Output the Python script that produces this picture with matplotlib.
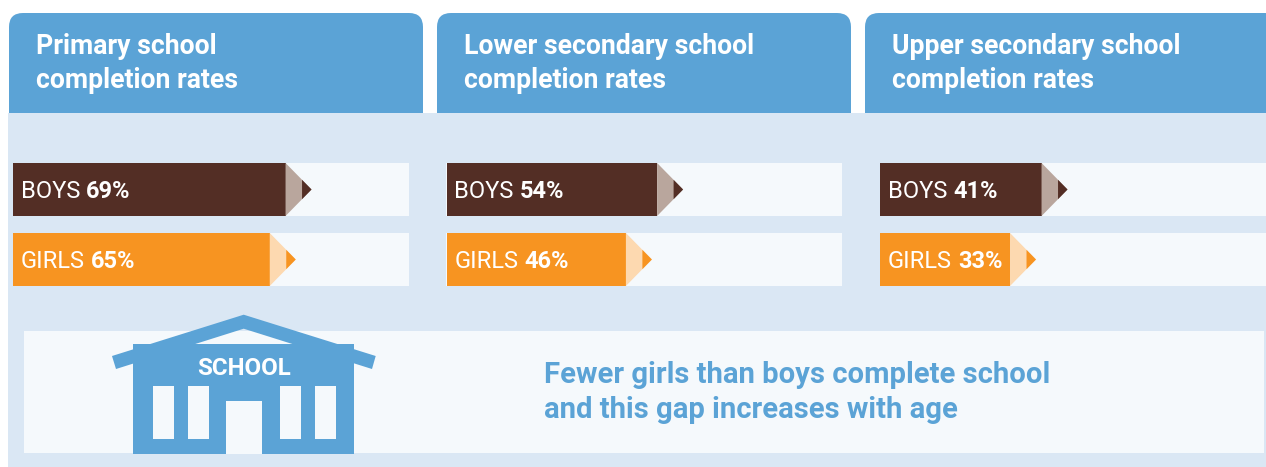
# coding: utf-8
import matplotlib
matplotlib.use('Agg')
import matplotlib.pyplot as plt
from matplotlib.patches import FancyBboxPatch, Polygon, Rectangle

plt.rcParams['font.family'] = ['Roboto', 'DejaVu Sans']

# data
levels = ['Primary school\ncompletion rates',
          'Lower secondary school\ncompletion rates',
          'Upper secondary school\ncompletion rates']
groups = ['BOYS', 'GIRLS']
boys = [69, 54, 41]
girls = [65, 46, 33]
message = ['Fewer girls than boys complete school', 'and this gap increases with age']

# colours
BLUE = '#5BA3D6'
PALE = '#DAE7F4'
TRACK = '#F5F9FC'
BROWN = '#532E25'
BROWN_L = '#B9A69D'
ORANGE = '#F79421'
ORANGE_L = '#FDD9B0'

W, H = 1266, 467
fig = plt.figure(figsize=(W / 100, H / 100), dpi=100)
bg = fig.add_axes([0, 0, 1, 1])
bg.set_xlim(0, W)
bg.set_ylim(H, 0)
bg.axis('off')

# panel positions in pixels: header left, track left, bar left, pixels per percent
header_x = [9, 437, 865]
track_x = [13, 446, 880]
bar_x = [13, 446.5, 880]
px_per_pct = [3.95, 3.9, 3.94]
ROW_H = 53
ROW_STEP = 70
TOP = 163

# headers, the lower part is hidden by the pale band
for x, name in zip(header_x, levels):
    r = 14
    bg.add_patch(FancyBboxPatch((x + r, 13 + r), 414 - 2 * r, 130, boxstyle='round,pad=%d,rounding_size=%d' % (r, r),
                                fc=BLUE, ec='none', zorder=1))
    for i, line in enumerate(name.split('\n')):
        bg.text(x + 26.6, 53.5 + i * 34, line, color='white', fontsize=19.15, fontweight='bold', va='baseline', zorder=4)

bg.add_patch(Rectangle((8, 113), W - 8, H - 113, fc=PALE, ec='none', zorder=2))
for x in track_x:
    for i in range(2):
        bg.add_patch(Rectangle((x, TOP + i * ROW_STEP), 396, ROW_H, fc=TRACK, ec='none', zorder=3))

# bars, one axes per panel with 0-100 on x
for k in range(3):
    s = px_per_pct[k]
    ax = fig.add_axes([bar_x[k] / W, 1 - (TOP + ROW_STEP + ROW_H) / H, 100 * s / W, (ROW_STEP + ROW_H) / H], zorder=5)
    ax.patch.set_alpha(0)
    ax.axis('off')
    half = ROW_H / ROW_STEP / 2
    ax.set_xlim(0, 100)
    ax.set_ylim(1 + half, -half)
    vals = [boys[k], girls[k]]
    cols = [BROWN, ORANGE]
    lights = [BROWN_L, ORANGE_L]
    ax.barh([0, 1], vals, height=2 * half, color=cols, linewidth=0)
    for i in range(2):
        v = vals[i]
        tip = 26 / s
        lead = 16.5 / s
        ax.add_patch(Polygon([(v, i - half), (v + tip, i), (v, i + half)], fc=lights[i], ec='none'))
        h2 = half * (1 - lead / tip)
        ax.add_patch(Polygon([(v + lead, i - h2), (v + tip, i), (v + lead, i + h2)], fc=cols[i], ec='none'))
        ty = i + 8.5 / ROW_STEP
        t = ax.text(7.8 / s, ty, groups[i], color='white', fontsize=17, fontweight='normal', va='baseline')
        ax.annotate('%d%%' % v, xy=(1, ty), xycoords=(t, 'data'), xytext=(6, 0), textcoords='offset pixels',
                    color='white', fontsize=17, fontweight='bold', va='baseline')

# bottom panel
bg.add_patch(Rectangle((24, 331), 1240, 122, fc=TRACK, ec='none', zorder=3))

# school icon
bg.add_patch(Polygon([(112, 356), (243.7, 314.7), (375.7, 356), (372, 369), (243.7, 328.7), (116, 369)],
                     fc=BLUE, ec='none', zorder=4))
bg.add_patch(Rectangle((133, 344), 221, 110, fc=BLUE, ec='none', zorder=4))
for wx in [153, 188, 280, 315]:
    bg.add_patch(Rectangle((wx, 386), 21, 53, fc=TRACK, ec='none', zorder=5))
bg.add_patch(Rectangle((226, 401), 36, 53, fc=TRACK, ec='none', zorder=5))
bg.text(243.7, 375, 'SCHOOL', color='white', fontsize=17.3, fontweight='bold', ha='center', va='baseline', zorder=6)

for i, line in enumerate(message):
    bg.text(544, 383 + i * 35, line, color=BLUE, fontsize=21.1, fontweight='bold', va='baseline', zorder=6)

fig.savefig('out.png', dpi=100)
